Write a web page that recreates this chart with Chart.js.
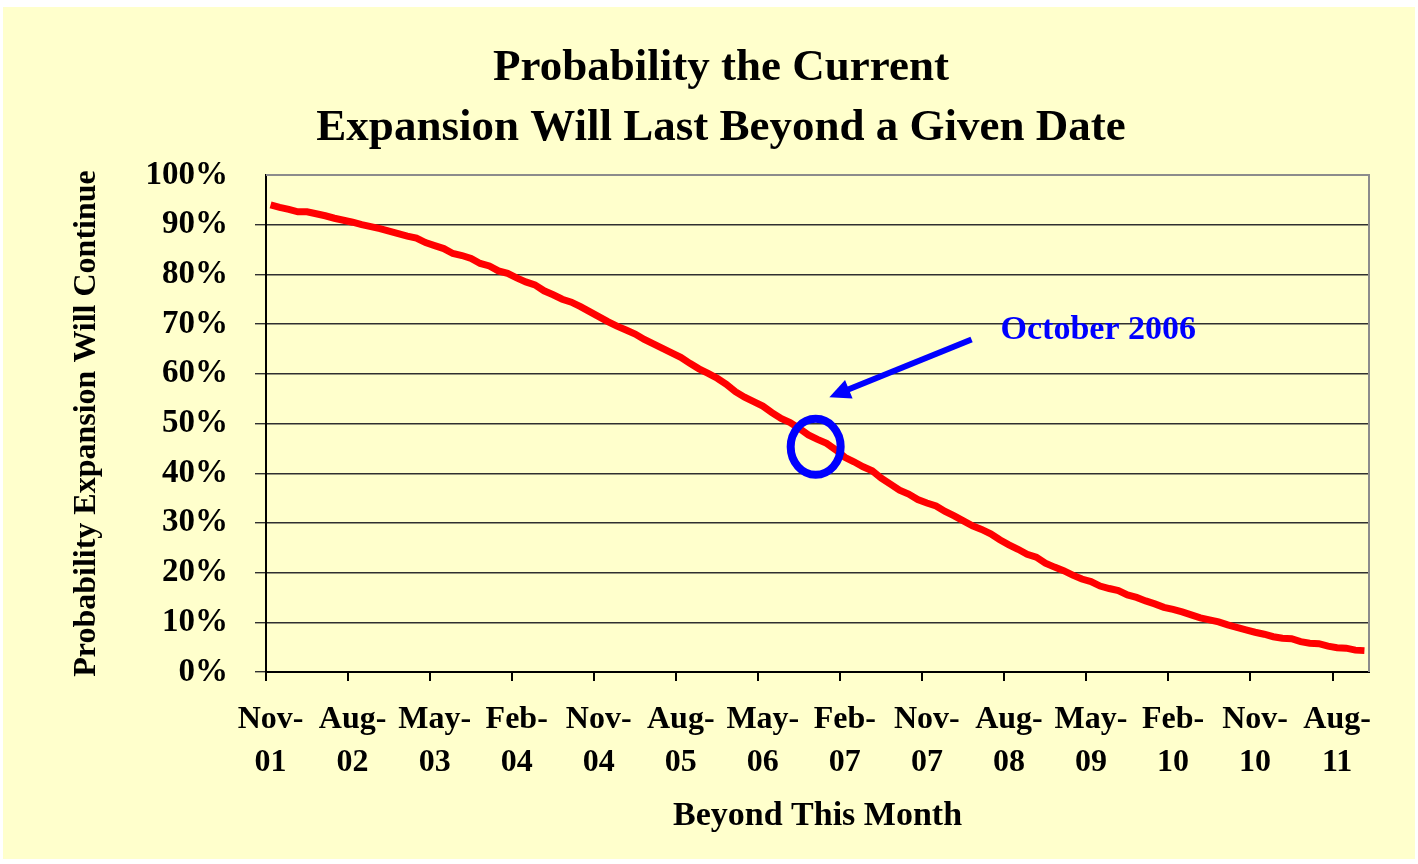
<!DOCTYPE html>
<html>
<head>
<meta charset="utf-8">
<script src="https://cdn.jsdelivr.net/npm/chart.js@4.4.0/dist/chart.umd.min.js"></script>
<style>
    html, body { margin: 0; padding: 0; background: #ffffff; }
    #wrap {
        position: absolute;
        left: 3px;
        top: 7px;
        width: 1412px;
        height: 852px;
        background: #ffffcc;
    }
</style>
</head>
<body>
<div id="wrap"><canvas id="expChart" width="1412" height="852"></canvas></div>
<script>
// months Nov-01 .. Nov-11
const monthNames = ["Jan", "Feb", "Mar", "Apr", "May", "Jun", "Jul", "Aug", "Sep", "Oct", "Nov", "Dec"];
const startYear = 2001;
const startMonth = 10; // November
const monthCount = 121;

const labels = [];
for (let i = 0; i < monthCount; i++) {
    const m = (startMonth + i) % 12;
    const y = startYear + Math.floor((startMonth + i) / 12);
    labels.push(monthNames[m] + "-" + String(y % 100).padStart(2, "0"));
}

// probability (%), one per month
const probability = [
    94.0, 93.5, 93.1, 92.6, 92.6, 92.2, 91.8, 91.3, 90.9, 90.5,
    90.0, 89.6, 89.2, 88.7, 88.2, 87.7, 87.3, 86.4, 85.8, 85.2,
    84.2, 83.8, 83.2, 82.2, 81.7, 80.7, 80.2, 79.3, 78.5, 77.9,
    76.7, 75.9, 75.0, 74.4, 73.5, 72.5, 71.5, 70.5, 69.6, 68.8,
    68.0, 66.9, 66.0, 65.1, 64.2, 63.3, 62.1, 61.0, 60.1, 59.1,
    57.9, 56.4, 55.3, 54.4, 53.5, 52.2, 51.0, 50.2, 49.0, 47.7,
    46.8, 46.0, 44.7, 43.2, 42.3, 41.3, 40.5, 39.0, 37.8, 36.6,
    35.8, 34.7, 34.0, 33.4, 32.3, 31.4, 30.4, 29.4, 28.7, 27.8,
    26.6, 25.6, 24.7, 23.7, 23.1, 21.9, 21.1, 20.4, 19.5, 18.7,
    18.2, 17.3, 16.8, 16.4, 15.5, 15.0, 14.3, 13.7, 13.0, 12.6,
    12.1, 11.5, 10.9, 10.5, 10.1, 9.5, 9.0, 8.5, 8.0, 7.6,
    7.1, 6.8, 6.7, 6.1, 5.8, 5.7, 5.2, 4.9, 4.8, 4.4,
    4.3
];

const labelEvery = 9;
const yTicks = [0, 10, 20, 30, 40, 50, 60, 70, 80, 90, 100];
const titleLines = ["Probability the Current", "Expansion Will Last Beyond a Given Date"];

const serif = "'Liberation Serif', 'Times New Roman', serif";

// callout pointing at October 2006 (index / value space)
const callout = {
    text: "October 2006",
    textAt: { x: 90.8, y: 67.0 },
    arrowFrom: { x: 76.9, y: 66.9 },
    arrowTo: { x: 61.3, y: 55.3 },
    ring: { x: 59.8, y: 45.3 }
};

const frameAndCallout = {
    id: "frameAndCallout",
    afterDatasetsDraw(chart) {
        const { ctx, chartArea: a, scales: { x, y } } = chart;
        ctx.save();

        // grey frame on top and right of plot
        ctx.strokeStyle = "#8c8c8c";
        ctx.lineWidth = 2;
        ctx.beginPath();
        ctx.moveTo(a.left, a.top);
        ctx.lineTo(a.right, a.top);
        ctx.lineTo(a.right, a.bottom);
        ctx.stroke();

        const blue = "#0000ff";

        // ring
        const cx = x.getPixelForValue(callout.ring.x);
        const cy = y.getPixelForValue(callout.ring.y);
        ctx.strokeStyle = blue;
        ctx.lineWidth = 8;
        ctx.beginPath();
        ctx.ellipse(cx, cy, 25, 28, 0, 0, Math.PI * 2);
        ctx.stroke();

        // arrow
        const x1 = x.getPixelForValue(callout.arrowFrom.x);
        const y1 = y.getPixelForValue(callout.arrowFrom.y);
        const x2 = x.getPixelForValue(callout.arrowTo.x);
        const y2 = y.getPixelForValue(callout.arrowTo.y);
        const ang = Math.atan2(y2 - y1, x2 - x1);
        const headLen = 21, headHalf = 10;
        const bx = x2 - Math.cos(ang) * headLen;
        const by = y2 - Math.sin(ang) * headLen;
        ctx.lineWidth = 6;
        ctx.lineCap = "butt";
        ctx.beginPath();
        ctx.moveTo(x1, y1);
        ctx.lineTo(bx + Math.cos(ang) * 2, by + Math.sin(ang) * 2);
        ctx.stroke();
        ctx.fillStyle = blue;
        ctx.beginPath();
        ctx.moveTo(x2, y2);
        ctx.lineTo(bx + Math.sin(ang) * headHalf, by - Math.cos(ang) * headHalf);
        ctx.lineTo(bx - Math.sin(ang) * headHalf, by + Math.cos(ang) * headHalf);
        ctx.closePath();
        ctx.fill();

        // label
        ctx.font = "bold 34px " + serif;
        ctx.textAlign = "center";
        ctx.textBaseline = "alphabetic";
        ctx.fillText(callout.text, x.getPixelForValue(callout.textAt.x), y.getPixelForValue(callout.textAt.y));

        // title (a little right of the canvas centre, as in the original)
        ctx.fillStyle = "#000000";
        ctx.font = "bold 45px " + serif;
        ctx.textBaseline = "middle";
        titleLines.forEach((t, i) => ctx.fillText(t, chart.width / 2 + 12, 61 + i * 60));

        ctx.restore();
    }
};

const ctx = document.getElementById("expChart").getContext("2d");

const expChart = new Chart(ctx, {
    type: "line",
    data: {
        labels: labels,
        datasets: [{
            label: "Probability",
            data: probability,
            borderColor: "#ff0000",
            borderWidth: 7,
            pointRadius: 0,
            tension: 0,
            fill: false
        }]
    },
    options: {
        responsive: false,
        animation: false,
        layout: {
            padding: { left: 0, right: 46, top: 168, bottom: 0 }
        },
        plugins: {
            legend: { display: false },
            tooltip: { enabled: false },
            title: { display: false }
        },
        scales: {
            x: {
                type: "category",
                offset: true,
                afterFit(scale) { scale.height = 187; },
                grid: {
                    offset: true,
                    drawOnChartArea: false,
                    tickLength: 9,
                    lineWidth: 2,
                    color: (c) => (c.index % labelEvery === 0 ? "#000000" : "rgba(0,0,0,0)")
                },
                border: { display: true, color: "#000000", width: 2 },
                ticks: {
                    autoSkip: false,
                    maxRotation: 0,
                    minRotation: 0,
                    padding: 17,
                    color: "#000000",
                    font: { family: serif, size: 32, weight: "bold", lineHeight: 43 / 32 },
                    callback: function (val, i) {
                        if (i % labelEvery !== 0) return "";
                        const parts = labels[i].split("-");
                        return [parts[0] + "-", parts[1]];
                    }
                },
                title: {
                    display: true,
                    text: "Beyond This Month",
                    color: "#000000",
                    font: { family: serif, size: 34, weight: "bold", lineHeight: 1.2 },
                    padding: { top: 0, bottom: 22 }
                }
            },
            y: {
                min: 0,
                max: 100,
                afterFit(scale) { scale.width = 263; },
                afterBuildTicks(scale) { scale.ticks = yTicks.map(v => ({ value: v })); },
                grid: {
                    tickLength: 11,
                    color: (c) => (c.tick && c.tick.value === 100 ? "rgba(0,0,0,0)" : "#303030"),
                    lineWidth: 1.4
                },
                border: { display: true, color: "#000000", width: 2 },
                ticks: {
                    padding: 27,
                    color: "#000000",
                    font: { family: serif, size: 33, weight: "bold" },
                    callback: (v) => v + "%"
                },
                title: {
                    display: true,
                    text: "Probability Expansion Will Continue",
                    color: "#000000",
                    font: { family: serif, size: 32, weight: "bold", lineHeight: 1.2 },
                    padding: { top: 65, bottom: 0 }
                }
            }
        }
    },
    plugins: [frameAndCallout]
});
</script>
</body>
</html>
